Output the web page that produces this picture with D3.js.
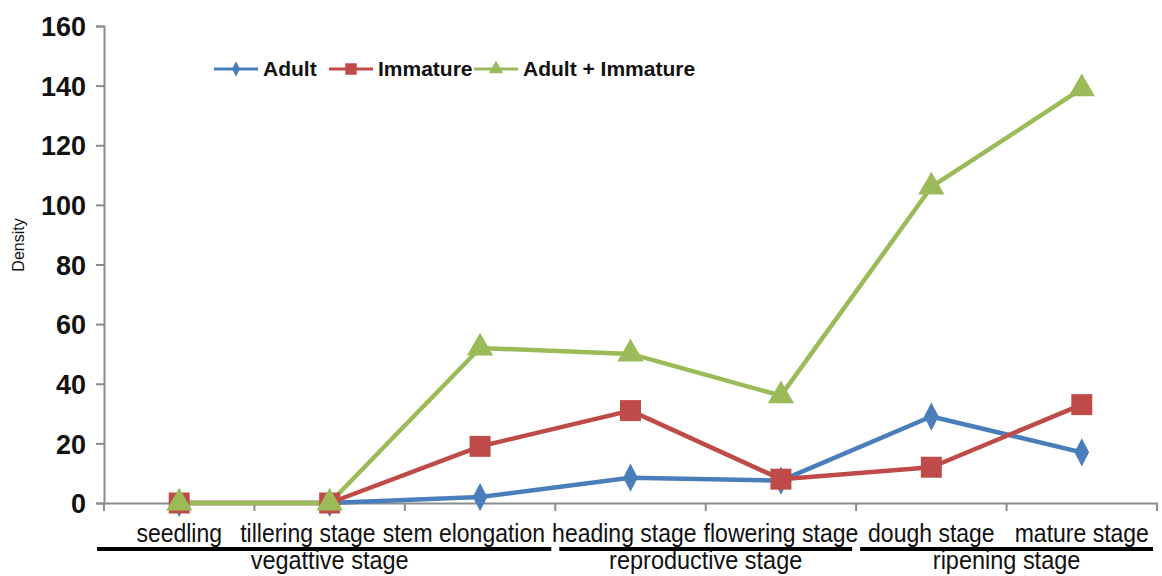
<!DOCTYPE html>
<html lang="en">
    <head>
        <meta charset="UTF-8" />
        <title>Density by growth stage</title>
        <style>
            body {
                margin: 0;
                background: #fff;
            }
            text {
                font-family: 'Liberation Sans', Arial, sans-serif;
                fill: #111;
            }
            .axis path,
            .axis line {
                stroke: #8c8c8c;
                stroke-width: 2px;
            }
            .series {
                fill: none;
                stroke-width: 4.5px;
                stroke-linejoin: round;
            }
        </style>
    </head>
    <body>
        <svg width="1162" height="576"></svg>
        <script src="https://d3js.org/d3.v7.min.js"></script>
        <script>
            const stages = ['seedling', 'tillering stage', 'stem elongation', 'heading stage', 'flowering stage', 'dough stage', 'mature stage'];
            const adult = [0, 0, 2, 8.5, 7.5, 29, 17];
            const immature = [0, 0, 19, 31, 8, 12, 33];
            const adultImmature = [0, 0, 52, 50, 36, 106, 139];
            const yTicks = [0, 20, 40, 60, 80, 100, 120, 140, 160];
            const groups = [
                { name: 'vegattive stage', from: 0, to: 2 },
                { name: 'reproductive stage', from: 3, to: 4 },
                { name: 'ripening stage', from: 5, to: 6 },
            ];

            const series = [
                { name: 'Adult', values: adult, color: '#4a7ebb', symbol: d3.symbolDiamond, size: 230, sx: 0.9 },
                { name: 'Immature', values: immature, color: '#be4b48', symbol: d3.symbolSquare, size: 440, sx: 1 },
                { name: 'Adult + Immature', values: adultImmature, color: '#9bbb59', symbol: d3.symbolTriangle, size: 300, sx: 1 },
            ];

            const svg = d3.select('svg');
            const m = { left: 104, right: 1157, top: 26, bottom: 503 };

            const x = d3.scaleBand().domain(stages).range([m.left, m.right]);
            const y = d3.scaleLinear().domain([0, 160]).range([m.bottom, m.top]);

            // axes
            const yAxis = svg
                .append('g')
                .attr('class', 'axis')
                .attr('transform', `translate(${m.left},0)`)
                .call(d3.axisLeft(y).tickValues(yTicks).tickSize(8).tickPadding(10));
            yAxis.selectAll('text').style('font-size', '27px').style('font-weight', 'bold').attr('dy', '0.36em');

            const xAxis = svg
                .append('g')
                .attr('class', 'axis')
                .attr('transform', `translate(0,${m.bottom})`)
                .call(d3.axisBottom(x).tickSize(0).tickFormat(''));
            xAxis
                .selectAll('.divider')
                .data(d3.range(stages.length + 1))
                .enter()
                .append('line')
                .attr('x1', (i) => m.left + i * x.step())
                .attr('x2', (i) => m.left + i * x.step())
                .attr('y1', 0)
                .attr('y2', 8);

            // category labels (the source font is a bit taller than Arial), pushed apart so they don't collide
            const catLabels = svg
                .append('g')
                .selectAll('text')
                .data(stages)
                .enter()
                .append('text')
                .attr('text-anchor', 'middle')
                .style('font-size', '23px')
                .text((d) => d);
            const boxes = [];
            catLabels.each(function (d) {
                boxes.push({ w: this.getComputedTextLength(), c: x(d) + x.bandwidth() / 2 });
            });
            const gap = 7;
            let limit = 1161;
            for (let i = boxes.length - 1; i >= 0; i--) {
                const b = boxes[i];
                if (b.c + b.w / 2 > limit) b.c = limit - b.w / 2;
                limit = b.c - b.w / 2 - gap;
            }
            catLabels.attr('transform', (d, i) => `translate(${boxes[i].c},542) scale(1,1.14)`);

            // group brackets
            const grp = svg.append('g').selectAll('g').data(groups).enter().append('g');
            grp.append('line')
                .attr('x1', (d) => x(stages[d.from]) - (d.from === 0 ? 7 : -4))
                .attr('x2', (d) => x(stages[d.to]) + x.bandwidth() - 4)
                .attr('y1', 549)
                .attr('y2', 549)
                .attr('stroke', '#000')
                .attr('stroke-width', 4);
            grp.append('text')
                .attr('transform', (d) => `translate(${(x(stages[d.from]) + x(stages[d.to]) + x.bandwidth()) / 2},569) scale(1,1.08)`)
                .attr('text-anchor', 'middle')
                .style('font-size', '23.5px')
                .text((d) => d.name);

            // y label
            svg.append('text')
                .attr('transform', 'translate(24,245) rotate(-90)')
                .attr('text-anchor', 'middle')
                .style('font-size', '16px')
                .text('Density');

            // lines and markers
            const line = d3
                .line()
                .x((d, i) => x(stages[i]) + x.bandwidth() / 2)
                .y((d) => y(d));

            series.forEach((s) => {
                svg.append('path').attr('class', 'series').attr('stroke', s.color).attr('d', line(s.values));
            });
            series.forEach((s) => {
                svg.append('g')
                    .selectAll('path')
                    .data(s.values)
                    .enter()
                    .append('path')
                    .attr('d', d3.symbol().type(s.symbol).size(s.size))
                    .attr('fill', s.color)
                    .attr('transform', (d, i) => `translate(${x(stages[i]) + x.bandwidth() / 2},${y(d)}) scale(${s.sx},1)`);
            });

            // legend
            const legendX = [214, 329, 474];
            const legend = svg
                .append('g')
                .selectAll('g')
                .data(series)
                .enter()
                .append('g')
                .attr('transform', (d, i) => `translate(${legendX[i]},69)`);
            legend.append('line').attr('x1', 0).attr('x2', 44).attr('stroke', (d) => d.color).attr('stroke-width', 3);
            legend
                .append('path')
                .attr('d', (d) => d3.symbol().type(d.symbol).size(d.size * 0.3)())
                .attr('fill', (d) => d.color)
                .attr('transform', (d) => `translate(22,0) scale(${d.sx},1)`);
            legend
                .append('text')
                .attr('x', 49)
                .attr('dy', '0.35em')
                .style('font-size', '21px')
                .style('font-weight', 'bold')
                .text((d) => d.name);
        </script>
    </body>
</html>
